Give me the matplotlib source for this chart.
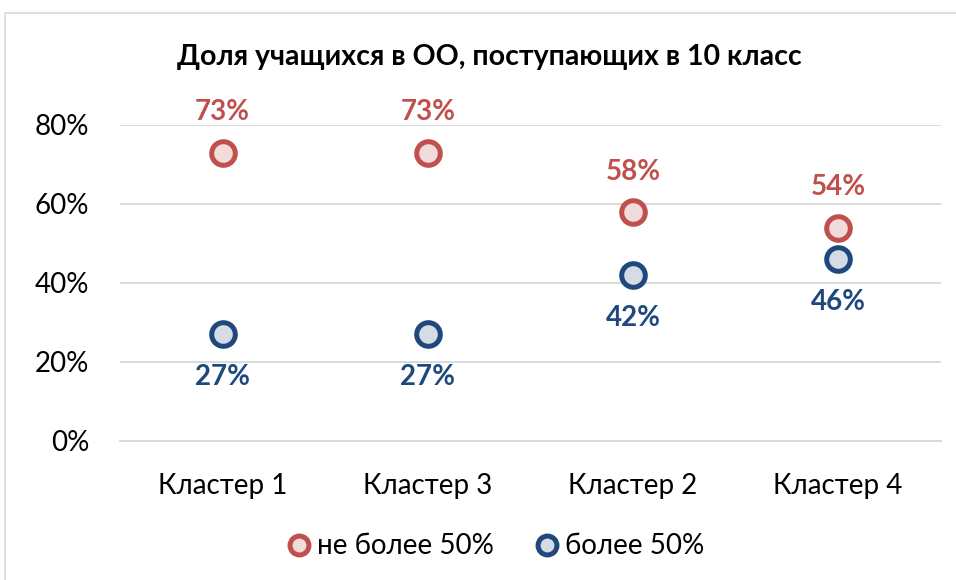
import matplotlib.pyplot as plt
from matplotlib.patches import Rectangle
from matplotlib.ticker import FuncFormatter

plt.rcParams['font.family'] = ['Lato', 'DejaVu Sans']

# ---- data ----
categories = ['Кластер 1', 'Кластер 3', 'Кластер 2', 'Кластер 4']
not_more_50 = [0.73, 0.73, 0.58, 0.54]
more_50 = [0.27, 0.27, 0.42, 0.46]
series_names = ['не более 50%', 'более 50%']
title = 'Доля учащихся в ОО, поступающих в 10 класс'

RED, RED_FILL = '#C0504D', '#F2DCDB'
BLUE, BLUE_FILL = '#1F497D', '#D6DCE5'

fig = plt.figure(figsize=(9.56, 5.8), dpi=100)
ax = fig.add_axes([0.1255, 0.2397, 0.8585, 0.5448])

# chart frame
fig.patches.append(Rectangle((5 / 956, -0.01), 1.0, (580 - 13) / 580 + 0.01,
                             transform=fig.transFigure, fill=False,
                             edgecolor='#D9D9D9', linewidth=1.2))

x = list(range(len(categories)))
ms, mew = 17, 3.6
ax.plot(x, not_more_50, linestyle='none', marker='o', markersize=ms,
        markerfacecolor=RED_FILL, markeredgecolor=RED, markeredgewidth=mew,
        label=series_names[0], zorder=3)
ax.plot(x, more_50, linestyle='none', marker='o', markersize=ms,
        markerfacecolor=BLUE_FILL, markeredgecolor=BLUE, markeredgewidth=mew,
        label=series_names[1], zorder=3)

for xi, v in zip(x, not_more_50):
    ax.annotate(f'{v:.0%}', (xi, v), xytext=(0, 29), textcoords='offset points',
                ha='center', va='center', fontsize=20, fontweight='bold', color=RED)
for xi, v in zip(x, more_50):
    ax.annotate(f'{v:.0%}', (xi, v), xytext=(0, -31), textcoords='offset points',
                ha='center', va='center', fontsize=20, fontweight='bold', color=BLUE)

ax.set_xlim(-0.5, len(categories) - 0.5)
ax.set_ylim(0, 0.8)
ax.set_yticks([0, 0.2, 0.4, 0.6, 0.8])
ax.yaxis.set_major_formatter(FuncFormatter(lambda y, _: f'{y:.0%}'))
ax.set_xticks(x)
ax.set_xticklabels(categories)
ax.tick_params(axis='both', length=0, labelsize=20, colors='#000000')
ax.tick_params(axis='y', pad=22)
ax.tick_params(axis='x', pad=23)

ax.grid(axis='y', color='#D9D9D9', linewidth=1.4)
ax.set_axisbelow(True)
for side in ['top', 'right', 'left']:
    ax.spines[side].set_visible(False)
ax.spines['bottom'].set_color('#D9D9D9')
ax.spines['bottom'].set_linewidth(1.4)

fig.text(0.512, 0.902, title, ha='center', va='center', fontsize=20.5,
         fontweight='bold')

leg = fig.legend(loc='center', bbox_to_anchor=(0.51, 0.058), ncol=2,
                 frameon=False, fontsize=20, handletextpad=-0.35,
                 columnspacing=0.9, markerscale=0.8)

fig.savefig('out.png', dpi=100)
